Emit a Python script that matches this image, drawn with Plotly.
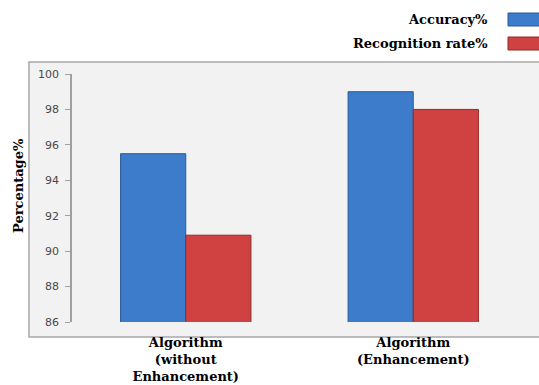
import plotly.graph_objects as go

categories = ["Algorithm<br>(without<br>Enhancement)", "Algorithm<br>(Enhancement)"]
series_names = ["Accuracy%", "Recognition rate%"]
accuracy = [95.5, 99.0]
recognition = [90.9, 98.0]
y_ticks = [86, 88, 90, 92, 94, 96, 98, 100]

colors = ["#3d7ccb", "#d04242"]
edge = ["#2b5a96", "#8f2b2b"]
serif = "DejaVu Serif"

W, H = 539, 385
L, R, T, B = 72, 12, 74, 63
pw, ph = W - L - R, H - T - B

fig = go.Figure()
for name, vals, c, e in zip(series_names, [accuracy, recognition], colors, edge):
    fig.add_trace(go.Bar(
        x=list(range(len(categories))), y=vals, name=name,
        marker=dict(color=c, line=dict(color=e, width=1)),
        showlegend=False,
    ))

def px_x(p):
    return (p - L) / pw

def px_y(p):
    return (H - B - p) / ph

shapes = [
    dict(type="rect", xref="paper", yref="paper", layer="below",
         x0=px_x(29), x1=px_x(545), y0=px_y(337), y1=px_y(62),
         fillcolor="#f2f2f2", line=dict(color="#a8a8a8", width=1.5)),
]
annotations = [
    dict(text="<b>Percentage%</b>", xref="paper", yref="paper", x=px_x(18), y=px_y(186),
         textangle=-90, showarrow=False, xanchor="center", yanchor="middle",
         font=dict(family=serif, size=13, color="#000000")),
]
legend_y = [19, 43]
for name, c, e, ly in zip(series_names, colors, edge, legend_y):
    annotations.append(dict(text="<b>" + name + "</b>", xref="paper", yref="paper",
                            x=px_x(490), y=px_y(ly), xanchor="right", yanchor="middle",
                            showarrow=False,
                            font=dict(family=serif, size=13, color="#000000")))
    shapes.append(dict(type="rect", xref="paper", yref="paper",
                       x0=px_x(508), x1=px_x(541), y0=px_y(ly + 7), y1=px_y(ly - 6),
                       fillcolor=c, line=dict(color=e, width=1)))

fig.update_layout(
    width=W, height=H,
    margin=dict(l=L, r=R, t=T, b=B, autoexpand=False),
    paper_bgcolor="#ffffff", plot_bgcolor="rgba(0,0,0,0)",
    barmode="group", bargap=0.427, bargroupgap=0,
    shapes=shapes, annotations=annotations,
    xaxis=dict(range=[-0.5, 1.5], tickmode="array", automargin=False,
               tickvals=list(range(len(categories))),
               ticktext=["<b>" + c + "</b>" for c in categories],
               showgrid=False, zeroline=False, showline=False, ticks="",
               ticklabelstandoff=11,
               tickfont=dict(family=serif, size=13, color="#000000")),
    yaxis=dict(range=[86, 100], tickvals=y_ticks, showgrid=False, zeroline=False,
               automargin=False,
               showline=True, linecolor="#a0a0a0", linewidth=1.5,
               ticks="outside", ticklen=5, tickcolor="#a0a0a0", tickwidth=1,
               ticklabelstandoff=4,
               tickfont=dict(family="DejaVu Sans", size=11, color="#4a4a4a")),
)

fig.write_html("out.html")
